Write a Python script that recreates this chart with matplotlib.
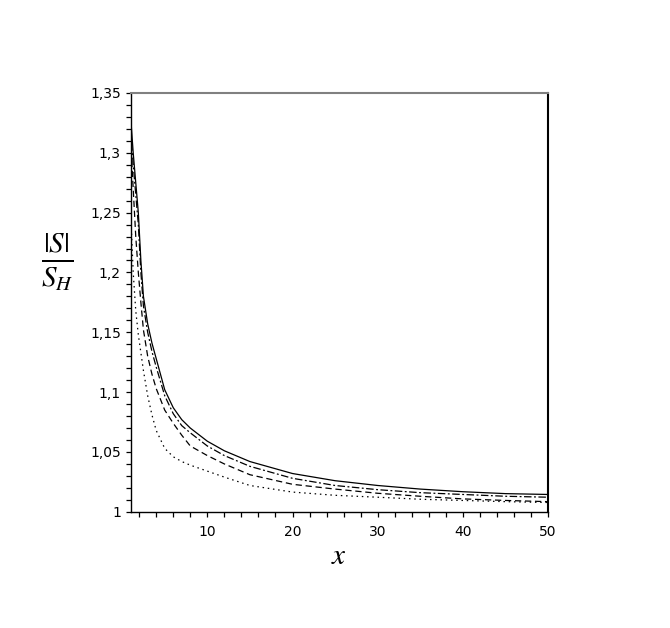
import matplotlib
matplotlib.use('Agg')
import matplotlib.pyplot as plt
from matplotlib.ticker import MultipleLocator, FuncFormatter

# values
x = [1, 1.3, 1.6, 1.9, 2.2, 2.5, 3, 3.5, 4, 5, 6, 7, 8, 10, 12, 15, 20, 25, 30, 35, 40, 45, 50]

solid = [1.33, 1.30, 1.275, 1.25, 1.21, 1.18, 1.157, 1.141, 1.128, 1.102, 1.087, 1.077, 1.070,
         1.059, 1.051, 1.042, 1.032, 1.026, 1.022, 1.019, 1.0168, 1.0152, 1.0145]
dashdot = [1.32, 1.29, 1.265, 1.24, 1.20, 1.172, 1.15, 1.134, 1.121, 1.097, 1.082, 1.072, 1.066,
           1.055, 1.047, 1.038, 1.028, 1.022, 1.0185, 1.016, 1.0145, 1.013, 1.0122]
dashed = [1.31, 1.27, 1.23, 1.20, 1.175, 1.152, 1.13, 1.115, 1.103, 1.085, 1.074, 1.064, 1.055,
          1.047, 1.040, 1.031, 1.023, 1.019, 1.0155, 1.013, 1.0108, 1.0095, 1.0085]
dotted = [1.25, 1.20, 1.168, 1.148, 1.133, 1.118, 1.097, 1.081, 1.068, 1.053, 1.046, 1.042, 1.039,
          1.034, 1.029, 1.022, 1.0165, 1.0138, 1.0122, 1.0105, 1.0095, 1.0085, 1.0078]

plt.rcParams['mathtext.fontset'] = 'stix'

fig = plt.figure(figsize=(6.7, 6.28), dpi=100)
ax = fig.add_axes([0.195, 0.185, 0.623, 0.667])

ax.plot(x, solid, color='black', lw=0.9, linestyle='-')
ax.plot(x, dashdot, color='black', lw=0.9, linestyle=(0, (6, 2, 1.5, 2)))
ax.plot(x, dashed, color='black', lw=0.9, linestyle=(0, (5, 3)))
ax.plot(x, dotted, color='black', lw=0.9, linestyle=(0, (1.2, 3)))

ax.set_xlim(1, 50)
ax.set_ylim(1, 1.35)

# ticks like the maple output
ax.xaxis.set_major_locator(MultipleLocator(10))
ax.xaxis.set_minor_locator(MultipleLocator(2))
ax.yaxis.set_major_locator(MultipleLocator(0.05))
ax.yaxis.set_minor_locator(MultipleLocator(0.01))

comma = FuncFormatter(lambda v, p: f'{round(v, 2):g}'.replace('.', ','))
ax.xaxis.set_major_formatter(FuncFormatter(lambda v, p: f'{v:g}' if v >= 10 else ''))
ax.yaxis.set_major_formatter(comma)

ax.tick_params(which='both', direction='out', length=3.5, width=0.9, labelsize=10)
ax.tick_params(axis='x', pad=6)

ax.spines['top'].set_color('#808080')
ax.spines['top'].set_linewidth(1.5)
ax.spines['right'].set_linewidth(1.5)
for s in ['left', 'bottom']:
    ax.spines[s].set_linewidth(1.0)

ax.set_xlabel(r'$x$', fontsize=21, labelpad=2)
fig.text(0.085, 0.583, r'$\frac{|S|}{S_H}$', fontsize=30, ha='center', va='center')

plt.savefig('out.png', dpi=100)
